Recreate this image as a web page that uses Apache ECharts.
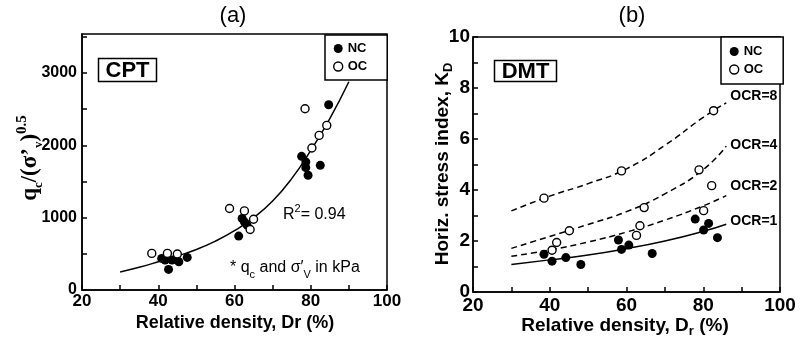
<!DOCTYPE html>
<html>
<head>
<meta charset="utf-8">
<script src="https://cdn.jsdelivr.net/npm/echarts@6/dist/echarts.min.js"></script>
<style>html,body{margin:0;padding:0;background:#fff;}#c{width:800px;height:345px;}</style>
</head>
<body>
<div id="c"></div>
<script>
// ---- Data ----
const cptNC = [[40.9,437],[41.8,414],[42.7,285],[43.6,414],[45.4,390],[47.6,451],
  [61.1,745],[62.0,989],[62.6,942],[63.3,897],
  [77.6,1848],[78.7,1770],[78.7,1692],[79.3,1586],[82.5,1724],[84.7,2561]];
const cptOC = [[38.3,506],[42.4,506],[45.0,497],[58.7,1127],[62.6,1094],[65.0,979],[64.1,837],
  [78.5,2506],[80.3,1963],[82.2,2138],[84.2,2276]];
const cptFitX = [30,35,40,45,50,55,60,65,70,75,80,85,90];
const cptFitY = [250,315,390,470,560,675,820,1000,1230,1540,1930,2370,2880];

const dmtNC = [[38.5,1.48],[40.6,1.21],[44.2,1.35],[48.1,1.08],[57.9,2.04],[58.7,1.67],[60.6,1.84],
  [66.7,1.51],[77.9,2.86],[80.1,2.43],[81.4,2.69],[83.7,2.13]];
const dmtOC = [[38.5,3.68],[40.6,1.64],[41.8,1.94],[45.1,2.40],[58.7,4.75],[62.6,2.22],[63.5,2.60],
  [64.6,3.31],[78.9,4.79],[80.1,3.19],[82.2,4.17],[82.7,7.11]];
const ocrX = [30,40,50,60,70,80,86];
const ocr1 = [1.08,1.26,1.45,1.70,2.00,2.38,2.66];
const ocr2 = [1.40,1.65,1.96,2.35,2.82,3.38,3.78];
const ocr4 = [1.71,2.18,2.65,3.15,3.85,4.80,5.72];
const ocr8 = [3.18,3.76,4.25,4.83,5.75,6.85,7.42];
const ocrNames = ['OCR=1','OCR=2','OCR=4','OCR=8'];

const xTicks = [20,40,60,80,100];
const cptYTicks = [0,1000,2000,3000];
const dmtYTicks = [0,2,4,6,8,10];

// ---- Helpers ----
const pair = (xs, ys) => xs.map((x,i)=>[x, ys[i]]);
const bold = 'Arial, "Liberation Sans", sans-serif';
const serif = '"Liberation Serif", "Times New Roman", serif';
const axisCommon = {
  axisLine:{show:true, onZero:false, lineStyle:{color:'#000', width:1.5}},
  axisTick:{show:true, inside:true, length:5, lineStyle:{color:'#000', width:1.5}},
  splitLine:{show:false}
};
function xAxisFor(gi, fs, margin){
  return Object.assign({}, axisCommon, {type:'value', gridIndex:gi, min:20, max:100, interval:10,
    axisLabel:{fontFamily:bold, fontWeight:'bold', fontSize:fs, color:'#000', margin:margin,
      formatter:v=> xTicks.includes(v) ? String(v) : ''}});
}
const ncStyle = {color:'#000', opacity:1};
const ocStyle = {color:'#fff', borderColor:'#000', borderWidth:1.4, opacity:1};
const legendBase = {
  orient:'vertical', itemWidth:9, itemHeight:9, itemGap:5,
  borderColor:'#000', borderWidth:1.5, backgroundColor:'#fff',
  textStyle:{fontFamily:bold, fontWeight:'bold', fontSize:13, color:'#000', lineHeight:13},
  selectedMode:false,
  data:[{name:'NC', icon:'circle', itemStyle:ncStyle},{name:'OC', icon:'circle', itemStyle:ocStyle}]
};

const ocrOffsets = [[2,-3],[2,-9],[2,-1],[2,-7]];
const ocrSeries = [ocr1,ocr2,ocr4,ocr8].map((arr,i)=>({
  type:'line', name:ocrNames[i], xAxisIndex:1, yAxisIndex:1, data:pair(ocrX,arr), smooth:true,
  showSymbol:false, silent:true, z:1,
  lineStyle:{color:'#000', width:1.5, type: i===0 ? 'solid' : [6,4]},
  endLabel:{show:true, formatter:ocrNames[i], distance:2, offset:ocrOffsets[i],
    fontFamily:bold, fontWeight:'bold', fontSize:14, color:'#000'}
}));

const option = {
  animation:false,
  backgroundColor:'#fff',
  grid:[
    {left:82, top:34, width:305, height:256, show:true, borderColor:'#000', borderWidth:1.5},
    {left:473, top:37, width:307, height:255, show:true, borderColor:'#000', borderWidth:1.5}
  ],
  xAxis:[ xAxisFor(0,17,3), xAxisFor(1,19,4) ],
  yAxis:[
    Object.assign({}, axisCommon, {type:'value', gridIndex:0, min:0, max:3540, interval:500,
      axisLabel:{fontFamily:bold, fontWeight:'bold', fontSize:16, color:'#000', margin:5,
        showMaxLabel:false, formatter:v=> cptYTicks.includes(v) ? String(v) : ''}}),
    Object.assign({}, axisCommon, {type:'value', gridIndex:1, min:0, max:10, interval:1,
      axisLabel:{fontFamily:bold, fontWeight:'bold', fontSize:19, color:'#000', margin:3,
        formatter:v=> dmtYTicks.includes(v) ? String(v) : ''}})
  ],
  legend:[
    Object.assign({}, legendBase, {left:325, top:35, padding:[7,20,7,8]}),
    Object.assign({}, legendBase, {left:721, top:37, padding:[8,20,8,8]})
  ],
  series:[
    {type:'line', name:'fit', xAxisIndex:0, yAxisIndex:0, data:pair(cptFitX,cptFitY), smooth:true,
      showSymbol:false, silent:true, z:1, lineStyle:{color:'#000', width:1.5}},
    {type:'scatter', name:'NC', xAxisIndex:0, yAxisIndex:0, data:cptNC, symbol:'circle', symbolSize:9, itemStyle:ncStyle, z:3},
    {type:'scatter', name:'OC', xAxisIndex:0, yAxisIndex:0, data:cptOC, symbol:'circle', symbolSize:8, itemStyle:ocStyle, z:4},
    ...ocrSeries,
    {type:'scatter', name:'NC', xAxisIndex:1, yAxisIndex:1, data:dmtNC, symbol:'circle', symbolSize:9, itemStyle:ncStyle, z:3},
    {type:'scatter', name:'OC', xAxisIndex:1, yAxisIndex:1, data:dmtOC, symbol:'circle', symbolSize:8, itemStyle:ocStyle, z:4}
  ],
  graphic:[
    {type:'text', position:[233,16], style:{text:'(a)', align:'center', verticalAlign:'middle',
      font:'22px Arial, "Liberation Sans", sans-serif', fill:'#000'}},
    {type:'text', position:[632,16], style:{text:'(b)', align:'center', verticalAlign:'middle',
      font:'22px Arial, "Liberation Sans", sans-serif', fill:'#000'}},
    // CPT / DMT boxes
    {type:'rect', shape:{x:98.5, y:58.5, width:58, height:23}, style:{fill:'#fff', stroke:'#000', lineWidth:1.5}, z:10},
    {type:'text', position:[127.5,70.5], z:11, style:{text:'CPT', align:'center', verticalAlign:'middle',
      font:'bold 22px Arial, "Liberation Sans", sans-serif', fill:'#000'}},
    {type:'rect', shape:{x:494.5, y:60.5, width:62, height:21}, style:{fill:'#fff', stroke:'#000', lineWidth:1.5}, z:10},
    {type:'text', position:[525.5,71.5], z:11, style:{text:'DMT', align:'center', verticalAlign:'middle',
      font:'bold 22px Arial, "Liberation Sans", sans-serif', fill:'#000'}},
    // R^2
    {type:'text', position:[283,213], style:{text:'{m|R}{s|2}{m|= 0.94}', verticalAlign:'middle',
      rich:{m:{fontFamily:bold, fontSize:16, color:'#000', lineHeight:20, verticalAlign:'bottom'},
            s:{fontFamily:bold, fontSize:11, color:'#000', lineHeight:11, verticalAlign:'top'}}}},
    // note
    {type:'text', position:[230,270], style:{text:'{m|* q}{s|c}{m| and σ′}{s|V}{m| in kPa}', verticalAlign:'middle',
      rich:{m:{fontFamily:bold, fontSize:16, color:'#000', lineHeight:20, verticalAlign:'top'},
            s:{fontFamily:bold, fontSize:11, color:'#000', lineHeight:11, verticalAlign:'bottom'}}}},
    // x titles
    {type:'text', position:[235,323], style:{text:'Relative density, Dr (%)', align:'center', verticalAlign:'middle',
      font:'bold 18px Arial, "Liberation Sans", sans-serif', fill:'#000'}},
    {type:'text', position:[625,327], style:{text:'{m|Relative density, D}{s|r}{m| (%)}', align:'center', verticalAlign:'middle',
      rich:{m:{fontFamily:bold, fontWeight:'bold', fontSize:19, color:'#000', lineHeight:22, verticalAlign:'top'},
            s:{fontFamily:bold, fontWeight:'bold', fontSize:13, color:'#000', lineHeight:13, verticalAlign:'bottom'}}}},
    // y titles
    {type:'text', position:[30,158], rotation:Math.PI/2, style:{text:'{m|q}{s|c}{m|/(σ\u2019}{s|v}{m|)}{p|0.5}',
      align:'center', verticalAlign:'middle',
      rich:{m:{fontFamily:serif, fontWeight:'bold', fontSize:23, color:'#000', lineHeight:30, verticalAlign:'middle'},
            s:{fontFamily:serif, fontWeight:'bold', fontSize:13, color:'#000', lineHeight:13, verticalAlign:'bottom'},
            p:{fontFamily:serif, fontWeight:'bold', fontSize:15, color:'#000', lineHeight:15, verticalAlign:'top'}}}},
    {type:'text', position:[443,164], rotation:Math.PI/2, style:{text:'{m|Horiz. stress index, K}{s|D}',
      align:'center', verticalAlign:'middle',
      rich:{m:{fontFamily:bold, fontWeight:'bold', fontSize:19, color:'#000', lineHeight:24, verticalAlign:'middle'},
            s:{fontFamily:bold, fontWeight:'bold', fontSize:13, color:'#000', lineHeight:13, verticalAlign:'bottom'}}}}
  ]
};
const chart = echarts.init(document.getElementById('c'), null, {renderer:'canvas'});
chart.setOption(option);
</script>
</body>
</html>
